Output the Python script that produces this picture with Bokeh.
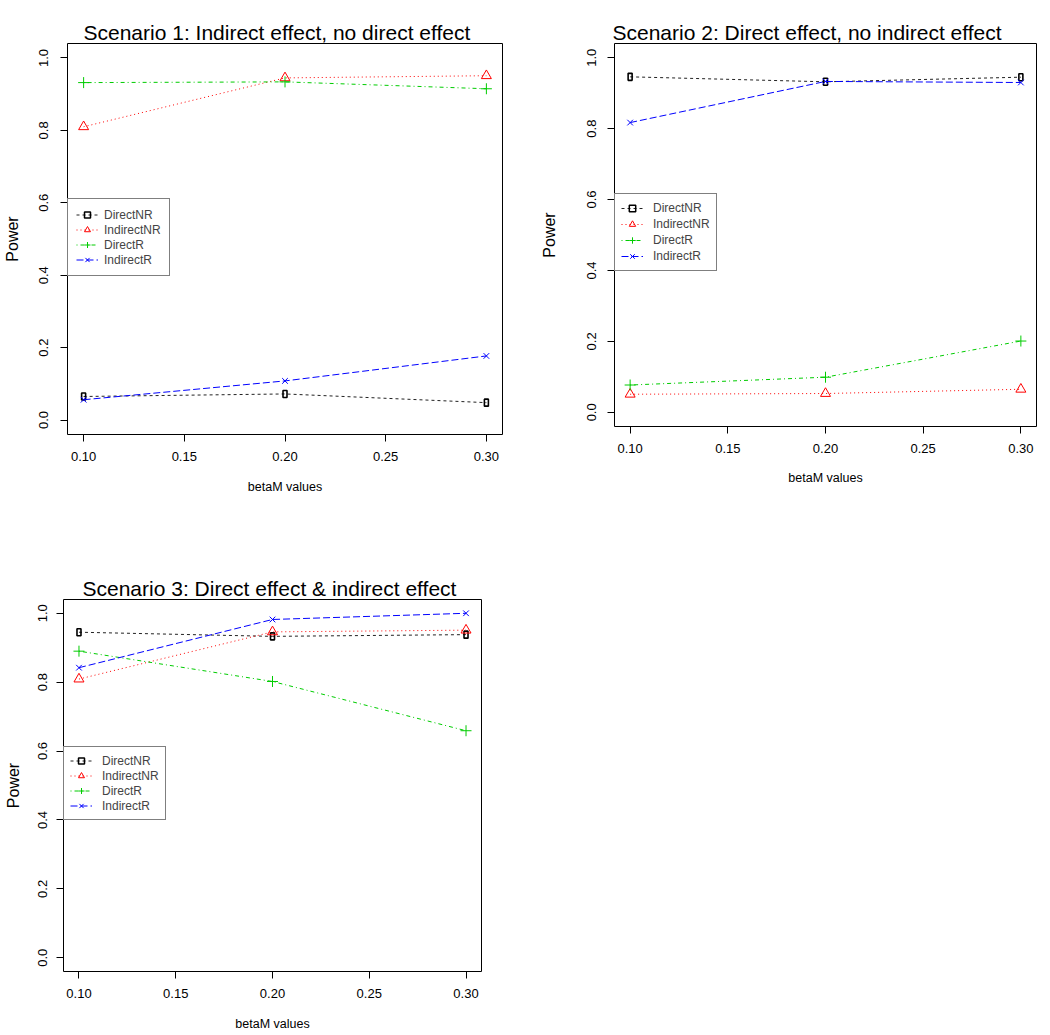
import math
from bokeh.plotting import figure
from bokeh.models import Range1d, FixedTicker, PrintfTickFormatter, Legend, LegendItem, Title
from bokeh.layouts import column, row
from bokeh.embed import file_html
from bokeh.resources import INLINE

# ---------------- data ----------------
beta_m = [0.10, 0.20, 0.30]
series_names = ["DirectNR", "IndirectNR", "DirectR", "IndirectR"]
x_ticks = [0.10, 0.15, 0.20, 0.25, 0.30]
y_ticks = [0.0, 0.2, 0.4, 0.6, 0.8, 1.0]

titles = [
    "Scenario 1: Indirect effect, no direct effect",
    "Scenario 2: Direct effect, no indirect effect",
    "Scenario 3: Direct effect & indirect effect",
]

s1_direct_nr = [0.065, 0.072, 0.048]
s1_indirect_nr = [0.810, 0.945, 0.951]
s1_direct_r = [0.932, 0.934, 0.915]
s1_indirect_r = [0.056, 0.108, 0.177]

s2_direct_nr = [0.946, 0.932, 0.945]
s2_indirect_nr = [0.051, 0.053, 0.065]
s2_direct_r = [0.077, 0.099, 0.201]
s2_indirect_r = [0.817, 0.933, 0.930]

s3_direct_nr = [0.945, 0.933, 0.938]
s3_indirect_nr = [0.809, 0.946, 0.951]
s3_direct_r = [0.890, 0.802, 0.659]
s3_indirect_r = [0.842, 0.982, 1.000]

FONT = "Liberation Sans"
COLORS = ["#222222", "#ff0000", "#00cc00", "#0000ff"]
DASHES = ["3 3", "1 3", "1 3 4 3", "7 3"]


def make_panel(title, series, width, height, left, right, top, bottom,
               title_offset, spacer_standoff, legend_y, legend_row_h, legend_pad,
               ytick_so, ylab_so, xtick_so, xlab_so):
    p = figure(width=width, height=height,
               x_range=Range1d(0.092, 0.308), y_range=Range1d(-0.04, 1.04),
               output_backend="svg", toolbar_location=None,
               min_border_left=left, min_border_right=right,
               min_border_top=top, min_border_bottom=bottom)
    p.background_fill_color = "white"
    p.border_fill_color = "white"
    p.outline_line_color = "black"
    p.outline_line_width = 1
    p.xgrid.visible = False
    p.ygrid.visible = False

    # the built-in title sits next to the frame: use it as an invisible spacer
    p.title.text = " "
    p.title.text_font_size = "1px"
    p.title.text_alpha = 0.0
    p.title.standoff = spacer_standoff

    # the visible title goes above the spacer
    p.add_layout(Title(text=title, align="left", vertical_align="bottom",
                       offset=title_offset, standoff=0, text_font=FONT,
                       text_font_size="21px", text_font_style="normal",
                       text_color="black"), "above")

    for ax in (p.xaxis[0], p.yaxis[0]):
        ax.axis_line_color = None
        ax.major_tick_line_color = "black"
        ax.major_tick_out = 7
        ax.major_tick_in = 0
        ax.minor_tick_line_color = None
        ax.major_label_text_font = FONT
        ax.major_label_text_font_size = "13px"
        ax.major_label_text_color = "black"
        ax.axis_label_text_font = FONT
        ax.axis_label_text_font_style = "normal"
        ax.axis_label_text_color = "black"

    p.xaxis.ticker = FixedTicker(ticks=x_ticks)
    p.xaxis.formatter = PrintfTickFormatter(format="%.2f")
    p.xaxis.axis_label = "betaM values"
    p.xaxis.axis_label_text_font_size = "12.5px"
    p.xaxis.major_label_standoff = xtick_so
    p.xaxis.axis_label_standoff = xlab_so

    p.yaxis.ticker = FixedTicker(ticks=y_ticks)
    p.yaxis.formatter = PrintfTickFormatter(format="%.1f")
    p.yaxis.major_label_orientation = "vertical"
    p.yaxis.axis_label = "Power"
    p.yaxis.axis_label_text_font_size = "16px"
    p.yaxis.major_label_standoff = ytick_so
    p.yaxis.axis_label_standoff = ylab_so

    items = []
    for i, (name, vals) in enumerate(zip(series_names, series)):
        col = COLORS[i]
        ln = p.line(beta_m, vals, line_color=col, line_width=1, line_dash=DASHES[i])
        if i == 0:
            p.rect(beta_m, vals, width=4, height=7, width_units="screen",
                   height_units="screen", fill_color=None, line_color="black",
                   line_width=1.6)
            mk = p.scatter(beta_m, vals, marker="square", size=0, fill_color=None,
                           line_color="black", line_width=1.5)
        elif i == 1:
            mk = p.scatter(beta_m, vals, marker="triangle", size=10,
                           fill_color=None, line_color=col, line_width=1)
        elif i == 2:
            mk = p.scatter(beta_m, vals, marker="cross", size=11, fill_color=None,
                           line_color=col, line_width=1)
        else:
            mk = p.scatter(beta_m, vals, marker="x", size=8, fill_color=None,
                           line_color=col, line_width=1)
        items.append(LegendItem(label=name, renderers=[ln, mk], index=0))

    leg = Legend(items=items, location=(0, legend_y), margin=0,
                 padding=legend_pad, spacing=0, glyph_width=22,
                 glyph_height=legend_row_h, label_height=legend_row_h,
                 label_standoff=10 - (legend_pad - 6) * 2,
                 label_text_font=FONT, label_text_font_size="12px",
                 border_line_color="black", border_line_width=1,
                 background_fill_alpha=1.0)
    p.add_layout(leg, "center")
    return p


H1 = 548
W1 = 520
W2 = 528
H3 = 485

p1 = make_panel(titles[0], [s1_direct_nr, s1_indirect_nr, s1_direct_r, s1_indirect_r],
                width=W1, height=H1, left=66, right=W1 - 502, top=43, bottom=H1 - 434,
                title_offset=16, spacer_standoff=13, legend_y=158, legend_row_h=15,
                legend_pad=8, ytick_so=12, ylab_so=16, xtick_so=10, xlab_so=16)
p2 = make_panel(titles[1], [s2_direct_nr, s2_indirect_nr, s2_direct_r, s2_indirect_r],
                width=W2, height=H1, left=94, right=W2 - 94 - 422, top=43, bottom=H1 - 426,
                title_offset=-2, spacer_standoff=7, legend_y=155, legend_row_h=16,
                legend_pad=6, ytick_so=11, ylab_so=27, xtick_so=10, xlab_so=15)
p3 = make_panel(titles[2], [s3_direct_nr, s3_indirect_nr, s3_direct_r, s3_indirect_r],
                width=W1, height=H3, left=63, right=W1 - 481, top=51, bottom=H3 - (973 - H1),
                title_offset=19, spacer_standoff=15, legend_y=151, legend_row_h=15,
                legend_pad=6, ytick_so=9, ylab_so=14, xtick_so=10, xlab_so=16)

layout = column(row(column(p1), column(p2)), p3)
open("out.html", "w").write(file_html(layout, INLINE))
